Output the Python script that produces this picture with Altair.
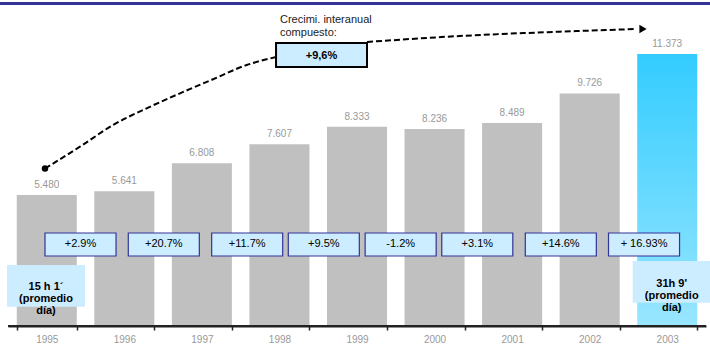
import altair as alt
import pandas as pd

# ---- data -------------------------------------------------------------
years = ["1995", "1996", "1997", "1998", "1999", "2000", "2001", "2002", "2003"]
hours = [5480, 5641, 6808, 7607, 8333, 8236, 8489, 9726, 11373]
hour_labels = ["5.480", "5.641", "6.808", "7.607", "8.333", "8.236", "8.489", "9.726", "11.373"]
growth_labels = ["+2.9%", "+20.7%", "+11.7%", "+9.5%", "-1.2%", "+3.1%", "+14.6%", "+ 16.93%"]
cagr_label = "+9,6%"
cagr_title = ["Crecimi. interanual", "compuesto:"]
start_note = "15 h 1´\n(promedio\ndía)"
end_note = "31h 9'\n(promedio\ndía)"

# ---- layout (continuous year axis for the annotations) ---------------
X_DOMAIN = [1994.5, 2003.5]
Y_MAX = 13050
growth_centers = [1995.435, 1996.509, 1997.584, 1998.572, 1999.563,
                  2000.551, 2001.628, 2002.701]
BOX_HALF = 0.458
GROWTH_BAND = (2928, 3890)
curve_up = [(1994.977, 6588), (1995.428, 7500), (1995.854, 8407), (1996.288, 9106),
            (1996.718, 9733), (1997.143, 10319), (1997.578, 10917), (1997.943, 11239)]
curve_flat = [(1999.129, 11879), (2000.328, 12130), (2001.617, 12310), (2002.600, 12423)]

FONT = "Arial, Liberation Sans, sans-serif"
GRAY = "#C0C0C0"
LIGHT = "#CCECFF"
NAVY = "#333399"
AXIS = "#222222"

# ---- bar part (band scale) --------------------------------------------
bars_df = pd.DataFrame({"year": years, "hours": hours, "label": hour_labels})

x_band = alt.X(
    "year:O",
    scale=alt.Scale(domain=years, paddingInner=0.226, paddingOuter=0.113),
    axis=alt.Axis(title=None, labelAngle=0, tickBand="extent", grid=False,
                  domain=True, ticks=True,
                  domainColor=AXIS, tickColor=AXIS, tickSize=4,
                  domainWidth=2, tickWidth=1.5,
                  labelColor="#999999", labelFontSize=10, labelFont=FONT,
                  labelPadding=4, zindex=1),
)
y_val = alt.Y("hours:Q", scale=alt.Scale(domain=[0, Y_MAX]), axis=None)

base = alt.Chart(bars_df)
gray_bars = base.transform_filter("datum.year != '2003'").mark_bar(color=GRAY).encode(x=x_band, y=y_val)
blue_bar = base.transform_filter("datum.year == '2003'").mark_bar(
    color=alt.Gradient(gradient="linear",
                       stops=[alt.GradientStop(color="#33CCFF", offset=0),
                              alt.GradientStop(color="#99E6FF", offset=1)],
                       x1=0, x2=0, y1=0, y2=1)
).encode(x=x_band, y=y_val)
value_text = base.mark_text(font=FONT, fontSize=10, color="#999999", dy=-7,
                            baseline="alphabetic").encode(x=x_band, y=y_val, text="label:N")

bar_layer = alt.layer(gray_bars, blue_bar, value_text)

# ---- annotation part (continuous scale) -------------------------------
xq = lambda f: alt.X(f, scale=alt.Scale(domain=X_DOMAIN, nice=False, zero=False), axis=None)
yq = lambda f: alt.Y(f, scale=alt.Scale(domain=[0, Y_MAX]), axis=None)

# baseline along the bottom of the bars
base_df = pd.DataFrame({"x0": [X_DOMAIN[0]], "x1": [X_DOMAIN[1]], "v": [0]})
baseline = alt.Chart(base_df).mark_rule(color=AXIS, strokeWidth=2).encode(
    x=xq("x0:Q"), x2="x1:Q", y=yq("v:Q"))

growth_df = pd.DataFrame({
    "label": growth_labels,
    "c": growth_centers,
    "x0": [c - BOX_HALF for c in growth_centers],
    "x1": [c + BOX_HALF for c in growth_centers],
    "y0": [GROWTH_BAND[0]] * len(growth_centers),
    "y1": [GROWTH_BAND[1]] * len(growth_centers),
    "ym": [(GROWTH_BAND[0] + GROWTH_BAND[1]) / 2] * len(growth_centers),
})
growth_boxes = alt.Chart(growth_df).mark_rect(fill=LIGHT, stroke=NAVY, strokeWidth=1.2).encode(
    x=xq("x0:Q"), x2="x1:Q", y=yq("y0:Q"), y2="y1:Q")
growth_text = alt.Chart(growth_df).mark_text(font=FONT, fontSize=11, color="black",
                                             baseline="middle").encode(
    x=xq("c:Q"), y=yq("ym:Q"), text="label:N")

notes_df = pd.DataFrame({
    "text": [start_note, end_note],
    "x0": [1994.487, 2002.555], "x1": [1995.493, 2003.56],
    "y0": [807, 975], "y1": [2551, 2719],
    "tx": [1994.99, 2003.058], "ty": [1631, 1757],
})
note_boxes = alt.Chart(notes_df).mark_rect(fill=LIGHT).encode(
    x=xq("x0:Q"), x2="x1:Q", y=yq("y0:Q"), y2="y1:Q")
note_text = alt.Chart(notes_df).mark_text(font=FONT, fontSize=11, fontWeight="bold",
                                          color="black", baseline="middle",
                                          lineBreak="\n", lineHeight=11.8).encode(
    x=xq("tx:Q"), y=yq("ty:Q"), text="text:N")

up_df = pd.DataFrame({"u": [p[0] for p in curve_up], "v": [p[1] for p in curve_up],
                      "i": list(range(len(curve_up)))})
flat_df = pd.DataFrame({"u": [p[0] for p in curve_flat], "v": [p[1] for p in curve_flat],
                        "i": list(range(len(curve_flat)))})
dash = dict(strokeDash=[6, 3], strokeWidth=2, color="black", interpolate="monotone")
curve1 = alt.Chart(up_df).mark_line(**dash).encode(x=xq("u:Q"), y=yq("v:Q"), order="i:Q")
curve2 = alt.Chart(flat_df).mark_line(**dash).encode(x=xq("u:Q"), y=yq("v:Q"), order="i:Q")

start_dot = alt.Chart(up_df.head(1)).mark_circle(size=42, color="black", opacity=1).encode(
    x=xq("u:Q"), y=yq("v:Q"))
arrow_df = pd.DataFrame({"u": [2002.688], "v": [12423]})
arrow = alt.Chart(arrow_df).mark_point(shape="triangle-right", filled=True, size=70,
                                       color="black", opacity=1).encode(
    x=xq("u:Q"), y=yq("v:Q"))

cagr_df = pd.DataFrame({"x0": [1997.956], "x1": [1999.129], "y0": [10833], "y1": [11837],
                        "tx": [1998.542], "ty": [11300], "label": [cagr_label]})
cagr_box = alt.Chart(cagr_df).mark_rect(fill=LIGHT, stroke="black", strokeWidth=2).encode(
    x=xq("x0:Q"), x2="x1:Q", y=yq("y0:Q"), y2="y1:Q")
cagr_text = alt.Chart(cagr_df).mark_text(font=FONT, fontSize=11, fontWeight="bold",
                                         color="black", baseline="middle").encode(
    x=xq("tx:Q"), y=yq("ty:Q"), text="label:N")

title_df = pd.DataFrame({"u": [1998.007, 1998.007], "v": [12674, 12130], "text": cagr_title})
cagr_title_text = alt.Chart(title_df).mark_text(font=FONT, fontSize=11, color="#222222",
                                                align="left", baseline="alphabetic").encode(
    x=xq("u:Q"), y=yq("v:Q"), text="text:N")

top_rule = alt.Chart(pd.DataFrame({"k": [0]})).mark_rule(color=NAVY, strokeWidth=3).encode(
    x=alt.value(-8), x2=alt.value(702), y=alt.value(-10.5))

overlay = alt.layer(baseline, growth_boxes, growth_text, note_boxes, note_text, curve1, curve2,
                    start_dot, arrow, cagr_box, cagr_text, cagr_title_text, top_rule)

chart = alt.layer(bar_layer, overlay).resolve_scale(x="independent").properties(
    width=698, height=312,
    padding={"left": 8, "top": 14, "right": 4, "bottom": 20},
    autosize=alt.AutoSizeParams(type="none"),
    background="white",
).configure_view(stroke=None)

chart.save("out.html", embed_options={"renderer": "svg", "actions": False})
